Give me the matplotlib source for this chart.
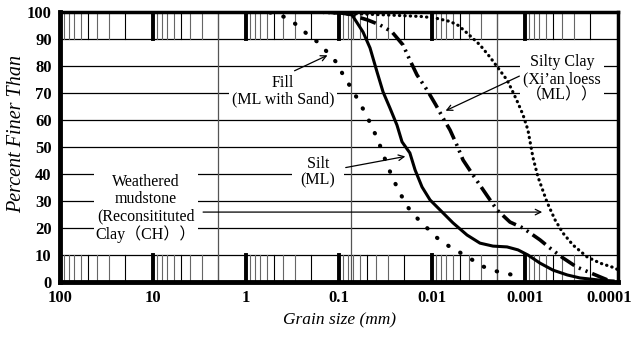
import numpy as np
import matplotlib.pyplot as plt
from matplotlib.transforms import ScaledTranslation

# ── Data (grain size in mm, percent finer) ───────────────────────────────────
fill_d = [0.55, 0.38, 0.283, 0.215, 0.164, 0.1025, 0.0884, 0.0724, 0.0609,
          0.0513, 0.0442, 0.0381, 0.0336, 0.0297, 0.0256, 0.0221, 0.0186,
          0.0149, 0.0116, 0.0091, 0.0069, 0.0051, 0.0038, 0.0029, 0.0021,
          0.00152, 0.00108]
fill_p = [99.8, 98.1, 95.2, 91.5, 88.5, 80.7, 75.9, 71.5, 66.7,
          62.2, 57.4, 52.6, 47.4, 42.6, 37.4, 33.0, 28.1,
          24.1, 20.4, 16.7, 13.7, 11.1, 8.5, 5.9, 4.1,
          3.0, 1.9]

silt_d = [0.16, 0.0975, 0.0724, 0.0552, 0.0464, 0.039, 0.0336, 0.0283, 0.0238,
          0.021, 0.0173, 0.0152, 0.0128, 0.0105, 0.0082, 0.00595, 0.0042,
          0.00305, 0.00221, 0.00156, 0.00119, 0.00093, 0.00069, 0.0005,
          0.00035, 0.000256, 0.000156, 0.000113]
silt_p = [100, 99.6, 98.9, 92.6, 86.7, 77.8, 70.4, 64.4, 58.1,
          51.9, 47.8, 41.5, 35.2, 30.4, 26.7, 21.9, 17.4,
          14.4, 13.3, 13.0, 11.9, 10.0, 7.0, 4.4,
          2.6, 1.5, 0.7, 0.4]

loess_d = [0.14, 0.086, 0.0488, 0.0362, 0.0269, 0.0205, 0.0173, 0.0145, 0.0113,
           0.0091, 0.0076, 0.0064, 0.0054, 0.00464, 0.00362, 0.0025, 0.002,
           0.00145, 0.00105, 0.00069, 0.00054, 0.00039, 0.00028, 0.000156,
           0.000122]
loess_p = [100, 99.6, 97.0, 95.2, 92.6, 87.8, 82.2, 76.7, 71.1,
           65.6, 60.7, 56.3, 50.7, 45.2, 39.6, 31.5, 26.7,
           22.2, 20.0, 15.6, 12.6, 8.9, 5.6, 1.9,
           0.4]

mud_d = [0.22, 0.086, 0.03, 0.0125, 0.0088, 0.0064, 0.0052, 0.0041, 0.00305,
         0.00238, 0.00195, 0.00156, 0.00138, 0.00119, 0.00105, 0.00093,
         0.00082, 0.000725, 0.00058, 0.000475, 0.00039, 0.000305, 0.000215,
         0.000156, 0.000108, 0.0001]
mud_p = [100, 99.5, 98.9, 98.3, 97.6, 96.5, 95.0, 91.9, 87.8,
         83.3, 79.3, 74.8, 71.1, 66.3, 61.9, 56.3,
         46.0, 38.9, 29.6, 23.0, 18.1, 13.7, 9.3,
         7.0, 5.2, 4.5]

xtick_vals = [100, 10, 1, 0.1, 0.01, 0.001, 0.0001]
xtick_labels = ['100', '10', '1', '0.1', '0.01', '0.001', '0.0001']
boundaries = [2, 0.075, 0.002]   # gravel / sand / silt / clay limits

SERIF = ['Liberation Serif', 'Noto Sans CJK SC', 'DejaVu Serif']
plt.rcParams['font.family'] = SERIF

fig = plt.figure(figsize=(6.31, 3.39), dpi=100)
ax = fig.add_axes([0.0951, 0.1681, 0.9794 - 0.0951, 0.9646 - 0.1681])
ax.set_xscale('log')
ax.set_xlim(100, 0.0001)
ax.set_ylim(0, 100)

# ── Grid: horizontal lines, band ticks, boundary lines ──────────────────────
for yv in range(10, 100, 10):
    ax.axhline(yv, color='black', lw=0.9, zorder=1)

for k in range(-4, 2):
    for m in range(2, 10):
        xv = m * 10.0 ** k
        col = 'black' if m in (2, 5) else '#666666'
        ax.plot([xv, xv], [0, 10], color=col, lw=0.8, zorder=1)
        ax.plot([xv, xv], [90, 100], color=col, lw=0.8, zorder=1)
for xv in xtick_vals[1:-1]:
    ax.plot([xv, xv], [0, 10], color='black', lw=2.8, zorder=1)
    ax.plot([xv, xv], [90, 100], color='black', lw=2.8, zorder=1)
for xv in boundaries:
    ax.plot([xv, xv], [0, 100], color='#555555', lw=0.9, zorder=1)

# ── Curves ──────────────────────────────────────────────────────────────────
ax.plot(fill_d, fill_p, color='black', lw=3.0, linestyle=(0, (0.1, 3.2)),
        dash_capstyle='round', zorder=4)
ax.plot(silt_d, silt_p, color='black', lw=2.2, zorder=4)
ax.plot(loess_d, loess_p, color='black', lw=2.6,
        linestyle=(0, (4.5, 1.4, 0.6, 1.4, 0.6, 1.4)), zorder=4)
ax.plot(mud_d, mud_p, color='black', lw=2.3, linestyle=(0, (0.1, 1.6)),
        dash_capstyle='round', zorder=4)

# ── Labels with arrows ──────────────────────────────────────────────────────
box = dict(boxstyle='square,pad=0.2', fc='white', ec='none')
lab = dict(fontsize=11.5, ha='center', va='center', family=SERIF,
           linespacing=1.08, zorder=3)

ax.text(0.40, 70.7, 'Fill\n(ML with Sand)', bbox=box, **lab)
ax.annotate('', xy=(0.125, 84.4), xytext=(0.32, 77.8),
            arrowprops=dict(arrowstyle='->', color='black', lw=0.9), zorder=3)

ax.text(0.168, 40.7, '   Silt   \n(ML)', bbox=box, **lab)
ax.annotate('', xy=(0.0181, 46.7), xytext=(0.0906, 42.2),
            arrowprops=dict(arrowstyle='->', color='black', lw=0.9), zorder=3)

ax.text(0.0004, 75.2, 'Silty Clay\n(Xi\u2019an loess\n\uff08ML\uff09\uff09', bbox=box, **lab)
ax.annotate('', xy=(0.0076, 63.0), xytext=(0.00108, 76.7),
            arrowprops=dict(arrowstyle='->', color='black', lw=0.9), zorder=3)

ax.text(11.9, 27.2, 'Weathered\nmudstone\n(Reconsitituted\nClay\uff08CH\uff09\uff09',
        bbox=dict(boxstyle='square,pad=0.1', fc='white', ec='none'), **lab)
ax.annotate('', xy=(0.00061, 25.9), xytext=(3.1, 25.9),
            arrowprops=dict(arrowstyle='->', color='black', lw=0.9), zorder=2)

# ── Axes styling ────────────────────────────────────────────────────────────
ax.set_xticks(xtick_vals)
ax.set_xticklabels(xtick_labels)
ax.minorticks_off()
ax.set_yticks(range(0, 101, 10))
ax.tick_params(length=0, labelsize=12, pad=6)
for t in ax.get_xticklabels() + ax.get_yticklabels():
    t.set_fontweight('bold')
    t.set_family(SERIF)
# nudge the last x label inward so it stays on the canvas
last = ax.get_xticklabels()[-1]
last.set_transform(last.get_transform() + ScaledTranslation(-9 / 100, 0, fig.dpi_scale_trans))

for side, w in [('left', 3.5), ('bottom', 3.5), ('top', 2.5), ('right', 2.5)]:
    ax.spines[side].set_linewidth(w)
    ax.spines[side].set_zorder(5)

ax.set_xlabel('Grain size (mm)', fontsize=12.5, style='italic', labelpad=4)
ax.set_ylabel('Percent Finer Than', fontsize=14.5, style='italic')
ax.yaxis.set_label_coords(-0.06, 0.55)

fig.savefig('out.png', dpi=100)
